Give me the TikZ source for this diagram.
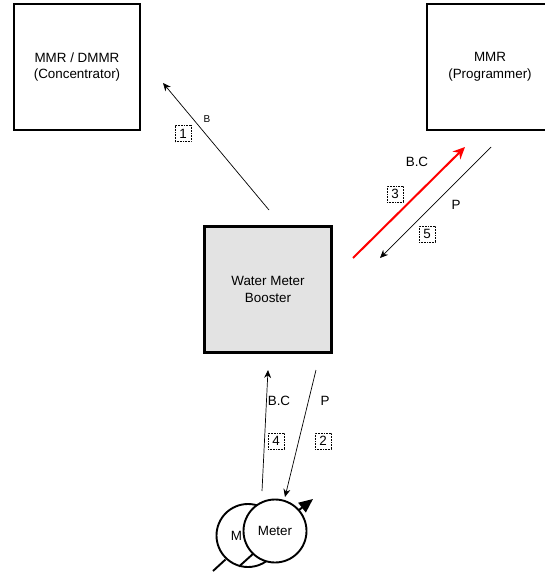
\documentclass[tikz,border=0pt]{standalone}
\usepackage{fontspec}
\setmainfont{Liberation Sans}
\usetikzlibrary{arrows.meta}
\tikzset{
  x=1pt,y=-1pt,
  txt/.style={font=\fontsize{13.4}{16.5}\selectfont},
  bigbox/.style={draw=black,line width=2.2pt,fill=white,minimum width=126pt,minimum height=126pt,align=center,inner sep=0pt,txt},
  numbox/.style={draw=black,densely dotted,line width=.6pt,minimum width=16pt,minimum height=16pt,inner sep=0pt,txt},
  lbl/.style={inner sep=0pt,txt},
  conn/.style={line width=.7pt,-{Stealth[length=8pt,width=7pt]}},
  meter/.style={circle,draw=black,line width=1.9pt,fill=white,minimum size=63pt,inner sep=0pt,txt},
}
\definecolor{boostergray}{RGB}{227,227,227}
\begin{document}
\begin{tikzpicture}
\useasboundingbox (0,0) rectangle (545,573);
\clip (0,0) rectangle (545,573);
\node[bigbox] (conc) at (77,67) {MMR / DMMR\\(Concentrator)};
\node[bigbox] (prog) at (490,67) {MMR\\(Programmer)};
\node[bigbox,fill=boostergray,minimum width=127pt,minimum height=126pt] (boost) at (268,289.5) {Water Meter\\Booster};
\coordinate (a1s) at (269,210); \coordinate (a1e) at (163,83);
\coordinate (a3s) at (353,258); \coordinate (a3e) at (465,147);
\coordinate (a5s) at (491,147); \coordinate (a5e) at (380,258);
\coordinate (a4s) at (262,491); \coordinate (a4e) at (268,370);
\coordinate (a2s) at (316,370); \coordinate (a2e) at (285,497);
\draw[conn] (a1s) -- (a1e);
\draw[line width=2pt,red,-{Stealth[length=12pt,width=11pt]}] (a3s) -- (a3e);
\draw[conn] (a5s) -- (a5e);
\draw[conn] (a4s) -- (a4e);
\draw[conn] (a2s) -- (a2e);
\node[lbl,font=\fontsize{10}{12}\selectfont] (lb) at (207,119) {B};
\node[lbl] (lbc3) at (417,162) {B.C};
\node[lbl] (lp5) at (456,205) {P};
\node[lbl] (lbc4) at (279,401) {B.C};
\node[lbl] (lp2) at (325,401) {P};
\node[numbox] (n1) at (183,133.5) {1};
\node[numbox] (n3) at (395,194) {3};
\node[numbox] (n5) at (427,234) {5};
\node[numbox] (n4) at (276,441) {4};
\node[numbox] (n2) at (323,441) {2};
\node[meter] (mback) at (248,535.5) {};
\node[lbl] (mm) at (236.5,536) {M};
\coordinate (l1s) at (213,571); \coordinate (l1e) at (225.5,559.5);
\coordinate (l2s) at (239,566.5); \coordinate (l2e) at (254,553);
\draw[line width=1.9pt] (l1s) -- (l1e);
\draw[line width=1.9pt] (l2s) -- (l2e);
\node[meter] (mfront) at (275,531) {Meter};
\coordinate (tipe) at (313,499);
\coordinate (tips) at (299,510);
\draw[line width=1.9pt,-{Triangle[length=14pt,width=12pt]}] (tips) -- (tipe);
\end{tikzpicture}
\end{document}
